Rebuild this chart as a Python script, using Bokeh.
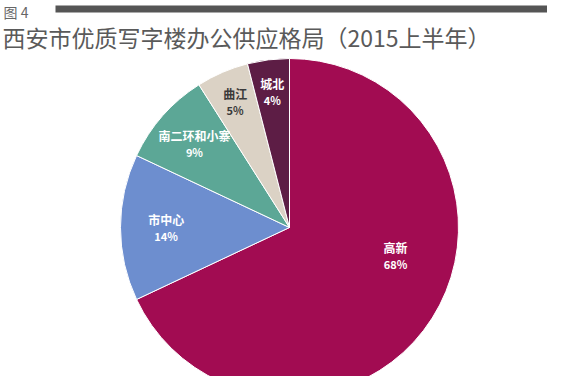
import math
from bokeh.plotting import figure
from bokeh.models import Range1d, ColumnDataSource
from bokeh.core.properties import value
from bokeh.embed import file_html
from bokeh.resources import INLINE

# ---- data ----
regions = ["高新", "市中心", "南二环和小寨", "曲江", "城北"]
shares = [68, 14, 9, 5, 4]
title_text = "西安市优质写字楼办公供应格局（2015上半年）"
fig_label = "图 4"

# ---- style ----
colors = ["#A20C52", "#6D8ECF", "#5CA796", "#DBD2C5", "#5D1D45"]
label_colors = ["white", "white", "white", "#3a3a3a", "white"]
label_span_frac = [0.43, 0.5, 0.5, 0.5, 0.5]
label_r_frac = [0.65, 0.73, 0.75, 0.81, 0.81]

W, H = 547, 376
TOP = 392  # data y of the figure top edge (screen y = TOP - data y)
p = figure(width=W, height=H, output_backend="svg", toolbar_location=None,
           x_range=Range1d(0, W), y_range=Range1d(TOP - H, TOP),
           min_border=0)
p.axis.visible = False
p.grid.visible = False
p.outline_line_color = None
p.background_fill_color = "white"

cx, cy, R = 289, TOP - 227, 169
total = sum(shares)
starts, ends, lx, ly, names, pcts = [], [], [], [], [], []
cum = 0
for i, (n, s) in enumerate(zip(regions, shares)):
    a0 = math.pi / 2 - 2 * math.pi * cum / total
    cum += s
    a1 = math.pi / 2 - 2 * math.pi * cum / total
    starts.append(a0)
    ends.append(a1)
    am = a0 + (a1 - a0) * label_span_frac[i]
    r = R * label_r_frac[i]
    lx.append(cx + r * math.cos(am))
    ly.append(cy + r * math.sin(am))
    names.append(n)
    pcts.append(f"{round(100 * s / total)}%")

src = ColumnDataSource(dict(start=starts, end=ends, color=colors,
                            x=lx, y=ly, name=names, pct=pcts, tc=label_colors))
p.wedge(x=cx, y=cy, radius=R, start_angle="start", end_angle="end",
        direction="clock", fill_color="color", line_color="white",
        line_width=1, source=src)

p.text(x="x", y="y", text="name", source=src, text_color="tc",
       text_font=value("Noto Sans CJK SC"), text_font_size="12px",
       text_font_style="bold", text_align="center", text_baseline="bottom")
p.text(x="x", y="y", text="pct", source=src, text_color="tc",
       text_font=value("Noto Sans CJK SC"), text_font_size="11px",
       text_font_style="bold", text_align="center", text_baseline="top")

# header
p.quad(left=55, right=553, top=TOP - 5, bottom=TOP - 12, fill_color="#555555",
       line_color=None)
p.text(x=[3], y=[TOP - 1], text=[fig_label], text_color="#666666",
       text_font=value("Noto Sans CJK SC"), text_font_size="14px",
       text_baseline="top")
p.text(x=[2], y=[TOP - 19], text=[title_text], text_color="#5a5a5a",
       text_font=value("Noto Sans CJK SC"), text_font_size="23px",
       text_baseline="top")

open("out.html", "w").write(file_html(p, INLINE))
